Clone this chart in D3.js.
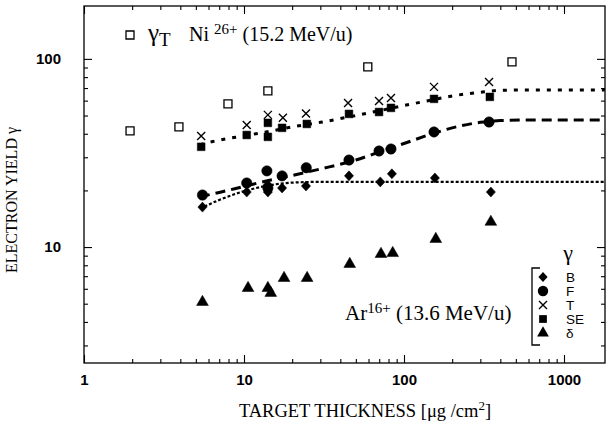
<!DOCTYPE html>
<html><head><meta charset="utf-8">
<script src="https://d3js.org/d3.v7.min.js"></script>
<style>body{margin:0;background:#fff}</style>
</head><body>
<svg id="c" width="610" height="429"></svg>
<script>
// ---- data ----
const xMajor = [1, 10, 100, 1000];
const yMajor = [10, 100];
const xMinor = [2,3,4,5,6,7,8,9,20,30,40,50,60,70,80,90,200,300,400,500,600,700,800,900];
const yMinor = [3,4,5,6,7,8,9,20,30,40,50,60,70,80,90];

const gammaTotalNi = [[1.94,41.4],[3.92,43.5],[7.94,57.6],[14.1,67.6],[59.4,90.7],[473,96.4]];
const gammaB  = [[5.5,16.3],[10.4,19.6],[14.1,21.4],[14.1,19.6],[17.3,20.6],[24.4,21.1],[45.3,23.9],[71.1,22.2],[84,24.5],[156,23.3],[349,19.6]];
const gammaF  = [[5.5,18.9],[10.4,21.9],[13.9,25.4],[14.1,20.6],[17.3,23.9],[24.5,26.4],[45.3,29.0],[69.8,32.4],[82.9,33.2],[154,40.9],[340,46.2]];
const gammaT  = [[5.4,38.9],[10.4,44.5],[14.1,50.4],[17.5,48.6],[24.4,51.3],[44.7,58.3],[69.8,59.8],[82.9,62.0],[154,71.0],[340,75.4]];
const gammaSE = [[5.4,34.1],[10.4,39.4],[14.1,45.7],[14.1,38.5],[17.3,43.0],[24.7,45.1],[45.3,51.0],[69.8,52.2],[82.9,54.9],[154,61.3],[344,62.8]];
const gammaD  = [[5.5,5.1],[10.6,6.05],[14.1,6.05],[14.7,5.7],[17.8,6.84],[24.8,6.84],[45.8,8.12],[71.8,9.18],[85,9.28],[158,11.03],[349,13.6]];

const fitSE = [[5.3,35],[7,37],[10,39],[14,41],[20,43.5],[30,46],[50,50],[70,53],[100,56.5],[150,60.5],[200,63.5],[300,66.5],[400,68],[700,68.4],[1800,68.4]];
const fitF  = [[5.3,18.5],[7,19.5],[10,21],[14,22.5],[20,24],[30,26],[50,29],[70,32],[100,35.5],[150,40],[200,43],[300,46],[400,47],[700,47.4],[1800,47.4]];
const fitB  = [[5.3,16],[7,17.8],[10,19.8],[14,21.2],[20,22],[30,22.2],[50,22.2],[1800,22.2]];

const legendKeys = ["B","F","T","SE","δ"];

// ---- chart ----
const svg = d3.select("#c");
const L=84, R=605, T=6, B=363;
const x = d3.scaleLog().domain([1, Math.pow(10,(R-L)/160)]).range([L,R]);
const y = d3.scaleLog().domain([2.42,191]).range([B,T]);

const sans = "'Liberation Sans', Arial, sans-serif";
const serif = "'Liberation Serif', 'Times New Roman', serif";

function styleAxis(g){
  g.select(".domain").remove();
  g.selectAll("line").attr("stroke","#000").attr("stroke-width",1.1);
  g.selectAll("text").attr("font-family",sans).attr("font-weight","bold").attr("font-size",15).attr("fill","#000");
}
// bottom
svg.append("g").attr("transform",`translate(0,${B})`)
  .call(d3.axisBottom(x).tickValues(xMajor).tickSize(-8).tickPadding(11).tickFormat(d3.format("d"))).call(styleAxis);
svg.append("g").attr("transform",`translate(0,${B})`)
  .call(d3.axisBottom(x).tickValues(xMinor).tickSize(-4).tickFormat("")).call(styleAxis);
// top
svg.append("g").attr("transform",`translate(0,${T})`)
  .call(d3.axisTop(x).tickValues(xMajor).tickSize(-8).tickFormat("")).call(styleAxis);
svg.append("g").attr("transform",`translate(0,${T})`)
  .call(d3.axisTop(x).tickValues(xMinor).tickSize(-4).tickFormat("")).call(styleAxis);
// left
svg.append("g").attr("transform",`translate(${L},0)`)
  .call(d3.axisLeft(y).tickValues(yMajor).tickSize(-8).tickPadding(23).tickFormat(d3.format("d"))).call(styleAxis);
svg.append("g").attr("transform",`translate(${L},0)`)
  .call(d3.axisLeft(y).tickValues(yMinor).tickSize(-4).tickFormat("")).call(styleAxis);
// right
svg.append("g").attr("transform",`translate(${R},0)`)
  .call(d3.axisRight(y).tickValues(yMajor).tickSize(-8).tickFormat("")).call(styleAxis);
svg.append("g").attr("transform",`translate(${R},0)`)
  .call(d3.axisRight(y).tickValues(yMinor).tickSize(-4).tickFormat("")).call(styleAxis);

svg.append("rect").attr("x",L).attr("y",T).attr("width",R-L).attr("height",B-T)
  .attr("fill","none").attr("stroke","#000").attr("stroke-width",1.3);

// fit curves
const line = d3.line().x(d=>x(d[0])).y(d=>y(d[1])).curve(d3.curveMonotoneX);
svg.append("path").attr("d",line(fitSE)).attr("fill","none").attr("stroke","#000")
  .attr("stroke-width",3).attr("stroke-dasharray","4,7");
svg.append("path").attr("d",line(fitF)).attr("fill","none").attr("stroke","#000")
  .attr("stroke-width",3).attr("stroke-dasharray","10,6");
svg.append("path").attr("d",line(fitB)).attr("fill","none").attr("stroke","#000")
  .attr("stroke-width",2.2).attr("stroke-dasharray","3,2");

// markers
const diamond = "M0,-5L4.6,0L0,5L-4.6,0Z";
const sym = {
  B:  () => diamond,
  F:  d3.symbol().type(d3.symbolCircle).size(85),
  SE: d3.symbol().type(d3.symbolSquare).size(60),
  D:  d3.symbol().type(d3.symbolTriangle).size(60),
  O:  d3.symbol().type(d3.symbolSquare).size(64),
};
function plot(data, s, fill){
  svg.append("g").selectAll("path").data(data).join("path")
    .attr("transform",d=>`translate(${x(d[0])},${y(d[1])})`)
    .attr("d",s).attr("fill",fill?"#000":"#fff").attr("stroke","#000").attr("stroke-width",fill?0.5:1.3);
}
function plotX(data){
  svg.append("g").selectAll("path").data(data).join("path")
    .attr("transform",d=>`translate(${x(d[0])},${y(d[1])})`)
    .attr("d","M-4,-4L4,4M-4,4L4,-4").attr("stroke","#000").attr("stroke-width",1.4).attr("fill","none");
}
plot(gammaTotalNi, sym.O, false);
plot(gammaB, sym.B, true);
plot(gammaF, sym.F, true);
plot(gammaSE, sym.SE, true);
plot(gammaD, sym.D, true);
plotX(gammaT);

// top-left legend
svg.append("path").attr("transform","translate(130,35)").attr("d",sym.O()).attr("fill","#fff").attr("stroke","#000").attr("stroke-width",1.3);
const t1 = svg.append("text").attr("x",148).attr("y",41).attr("font-family",serif).attr("font-size",20).attr("fill","#000");
t1.append("tspan").text("γ").attr("font-size",25);
t1.append("tspan").text("T").attr("dy",5).attr("font-size",19);
t1.append("tspan").text("Ni ").attr("x",189).attr("dy",-5);
t1.append("tspan").text("26+").attr("font-size",15).attr("dy",-7);
t1.append("tspan").text(" (15.2 MeV/u)").attr("dy",7);

// bottom-right legend
svg.append("text").attr("x",568).attr("y",260).attr("font-family",serif).attr("font-size",22).attr("text-anchor","middle").text("γ");
svg.append("path").attr("d","M540,268H532V345H540").attr("fill","none").attr("stroke","#000").attr("stroke-width",1.3);
const ly = [277,291,305,319,333];
const lsyms = [sym.B, sym.F, null, sym.SE, sym.D];
legendKeys.forEach((k,i)=>{
  if(lsyms[i]) svg.append("path").attr("transform",`translate(543,${ly[i]})`).attr("d",lsyms[i]()).attr("fill","#000");
  else svg.append("path").attr("transform",`translate(543,${ly[i]})`).attr("d","M-4,-4L4,4M-4,4L4,-4").attr("stroke","#000").attr("stroke-width",1.4);
  svg.append("text").attr("x",566).attr("y",ly[i]+5).attr("font-family",sans).attr("font-size",13.5).text(k);
});
const t2 = svg.append("text").attr("x",345).attr("y",320).attr("font-family",serif).attr("font-size",21);
t2.append("tspan").text("Ar");
t2.append("tspan").text("16+").attr("font-size",15).attr("dy",-7);
t2.append("tspan").text(" (13.6 MeV/u)").attr("dy",7);

// axis titles
svg.append("text").attr("x",365).attr("y",417).attr("text-anchor","middle").attr("font-family",serif).attr("font-size",18.5)
  .html('TARGET THICKNESS [μg /cm<tspan font-size="13" dy="-7">2</tspan><tspan dy="7">]</tspan>');
svg.append("text").attr("transform","translate(17,200) rotate(-90)").attr("text-anchor","middle").attr("font-family",serif).attr("font-size",16)
  .text("ELECTRON YIELD γ");
</script>
</body></html>
